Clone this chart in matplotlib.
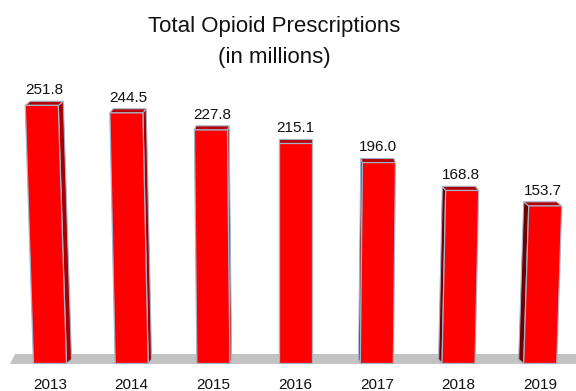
import matplotlib
matplotlib.use("Agg")
import matplotlib.pyplot as plt
from matplotlib.patches import Polygon
from matplotlib import font_manager

years = ["2013", "2014", "2015", "2016", "2017", "2018", "2019"]
prescriptions = [251.8, 244.5, 227.8, 215.1, 196.0, 168.8, 153.7]
title_lines = ["Total Opioid Prescriptions", "(in millions)"]

installed = {f.name for f in font_manager.fontManager.ttflist}
if "Liberation Sans Narrow" in installed:
    family = ["Liberation Sans Narrow", "Liberation Sans", "DejaVu Sans"]
    title_size, label_size = 18.5, 12.5
else:
    family = ["Liberation Sans", "DejaVu Sans"]
    title_size, label_size = 16, 11

W, H, DPI = 576, 391, 100
fig = plt.figure(figsize=(W / DPI, H / DPI), dpi=DPI)
ax = fig.add_axes([0, 0, 1, 1])
ax.set_xlim(-0.612, 6.438)
ax.set_ylim(-26.83, 354.6)
ax.axis("off")

front_c = "#ff0000"
top_c = "#b40000"
side_right_c = "#a80000"   # right-hand side faces (bars left of centre)
side_left_c = "#6e0000"    # left-hand side faces (bars right of centre)
edge_c = "#9fb3cc"

half_w = 0.202      # half width of a bar front (category units)
lean_k = 1.33e-4    # perspective lean per unit of offset and height
side_k = 0.0205     # side-face depth per unit of offset from centre
depth_y = 4.0       # vertical depth of the top face (value units)
center = (len(years) - 1) / 2

# gray floor slab
floor = Polygon([(-0.49, -0.5), (6.6, -0.5), (6.6, 9.3), (-0.43, 9.3)],
                closed=True, facecolor="#c3c3c3", edgecolor="none", zorder=1)
ax.add_patch(floor)

for i, (yr, v) in enumerate(zip(years, prescriptions)):
    off = i - center
    lean = lean_k * off * v
    dx = -side_k * off
    dy = depth_y
    bl = (i - half_w, 0.0)
    br = (i + half_w, 0.0)
    tr = (i + half_w + lean, v)
    tl = (i - half_w + lean, v)

    # visible side face
    if off < 0:
        side = [br, tr, (tr[0] + dx, tr[1] + dy), (br[0] + dx, br[1] + dy)]
        sc = side_right_c
    elif off > 0:
        side = [bl, tl, (tl[0] + dx, tl[1] + dy), (bl[0] + dx, bl[1] + dy)]
        sc = side_left_c
    else:
        side = None
    if side is not None:
        ax.add_patch(Polygon(side, closed=True, facecolor=sc,
                             edgecolor=edge_c, lw=0.8, zorder=2))

    # top face
    top = [tl, tr, (tr[0] + dx, tr[1] + dy), (tl[0] + dx, tl[1] + dy)]
    ax.add_patch(Polygon(top, closed=True, facecolor=top_c,
                         edgecolor=edge_c, lw=0.8, zorder=3))

    # front face
    ax.add_patch(Polygon([bl, br, tr, tl], closed=True, facecolor=front_c,
                         edgecolor=edge_c, lw=0.9, zorder=4))

    # value label
    ax.text(i + lean + dx / 2, v + dy + 7, f"{v:.1f}", ha="center",
            va="baseline", fontsize=label_size, family=family,
            color="#111111", zorder=5)

    # year label
    ax.text(i, -24.6, yr, ha="center", va="baseline", fontsize=label_size,
            family=family, color="#111111", zorder=5)

fig.text(274.5 / W, 1 - 31.7 / H, title_lines[0], ha="center", va="baseline",
         fontsize=title_size, family=family, color="#111111")
fig.text(274.5 / W, 1 - 63.5 / H, title_lines[1], ha="center", va="baseline",
         fontsize=title_size, family=family, color="#111111")

fig.savefig("out.png", dpi=DPI)
